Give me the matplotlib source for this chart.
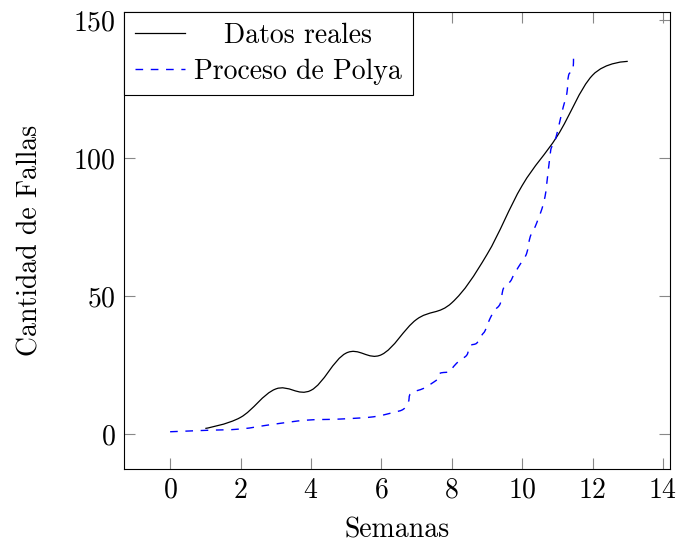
import matplotlib
matplotlib.use('Agg')
import matplotlib.pyplot as plt
from matplotlib.path import Path
from matplotlib.patches import PathPatch
from matplotlib.lines import Line2D
import numpy as np

plt.rcParams['font.family'] = 'cmr10'
plt.rcParams['mathtext.fontset'] = 'cm'
plt.rcParams['axes.formatter.use_mathtext'] = True

# datos reales (semanas 1..13)
semanas = [1, 2, 3, 4, 5, 6, 7, 8, 9, 10, 11, 12, 13]
fallas = [2, 6, 16.3, 15.8, 29.3, 28.7, 41.5, 47.5, 65, 90, 108, 130, 135]

# proceso de Polya
polya_x = [0, 1, 2, 2.93, 3.88, 4.83, 5.77, 6.34, 6.63, 6.77, 6.84, 7.2, 7.43,
           7.63, 7.67, 7.95, 8.05, 8.24, 8.43, 8.52, 8.71, 8.86, 8.95, 9.09, 9.23,
           9.38, 9.47, 9.66, 9.76, 9.9, 9.99, 10.13, 10.23, 10.37, 10.46, 10.56,
           10.65, 10.7, 10.8, 10.84, 10.94, 11.08, 11.17, 11.27, 11.32, 11.44, 11.46]
polya_y = [0.8, 1.3, 1.8, 3.5, 5.0, 5.4, 6.2, 7.8, 9.0, 11.7, 14.7, 16.5, 18.3,
           20.2, 22.0, 22.6, 24.4, 26.8, 28.6, 31.9, 32.9, 35.9, 37.5, 41.9, 44.9,
           47.3, 52.8, 55.2, 57.6, 60.6, 62.4, 65.5, 71.5, 75.1, 78.1, 81.5,
           86.0, 90.8, 101.7, 104.0, 106.5, 113.8, 118.6, 123.4, 130.0, 131.9, 138.0]

FS = 20


def smooth_path(x, y, tension=0.55):
    # curva tipo "smooth" de pgfplots con segmentos Bezier cubicos
    p = np.column_stack([x, y]).astype(float)
    n = len(p)
    verts = [p[0]]
    codes = [Path.MOVETO]
    k = tension / 3.0
    for i in range(n - 1):
        d0 = p[min(i + 1, n - 1)] - p[max(i - 1, 0)]
        d1 = p[min(i + 2, n - 1)] - p[i]
        if i == 0:
            d0 = np.zeros(2)
        if i == n - 2:
            d1 = np.zeros(2)
        verts += [p[i] + k * d0, p[i + 1] - k * d1, p[i + 1]]
        codes += [Path.CURVE4] * 3
    return Path(verts, codes)


fig = plt.figure(figsize=(6.81, 5.46), dpi=100)
ax = fig.add_axes([124 / 681, 77 / 546, 546 / 681, 457 / 546])

dash = (0, (5.5, 5.5))
ax.add_patch(PathPatch(smooth_path(semanas, fallas), facecolor='none',
                       edgecolor='black', lw=0.9))
ax.add_patch(PathPatch(smooth_path(polya_x, polya_y), facecolor='none',
                       edgecolor='blue', lw=1.0, linestyle=dash))

ax.set_xlim(-1.31, 14.2)
ax.set_ylim(-12.7, 152.9)
ax.set_xticks([0, 2, 4, 6, 8, 10, 12, 14])
ax.set_yticks([0, 50, 100, 150])
ax.tick_params(direction='in', length=8, width=0.8, color='#888888',
               top=True, right=True, labelsize=FS, pad=6)
for s in ax.spines.values():
    s.set_linewidth(0.8)

ax.set_xlabel('Semanas', fontsize=FS, labelpad=10)
ax.set_ylabel('Cantidad de Fallas', fontsize=FS, labelpad=21)

handles = [Line2D([], [], color='black', lw=0.9),
           Line2D([], [], color='blue', lw=1.0, linestyle=dash)]
leg = ax.legend(handles, ['Datos reales', 'Proceso de Polya'], loc='upper left',
                borderaxespad=0, fancybox=False, framealpha=1, edgecolor='black',
                fontsize=FS, handlelength=1.8, handletextpad=0.35,
                borderpad=0.38, labelspacing=0.35)
leg.get_frame().set_linewidth(0.8)

# centrar los textos de la leyenda como en pgfplots
fig.canvas.draw()
r = fig.canvas.get_renderer()
w = [t.get_window_extent(r).width for t in leg.get_texts()]
for t, wi in zip(leg.get_texts(), w):
    t.set_position(((max(w) - wi) / 2, 0))

fig.savefig('out.png', dpi=100)
